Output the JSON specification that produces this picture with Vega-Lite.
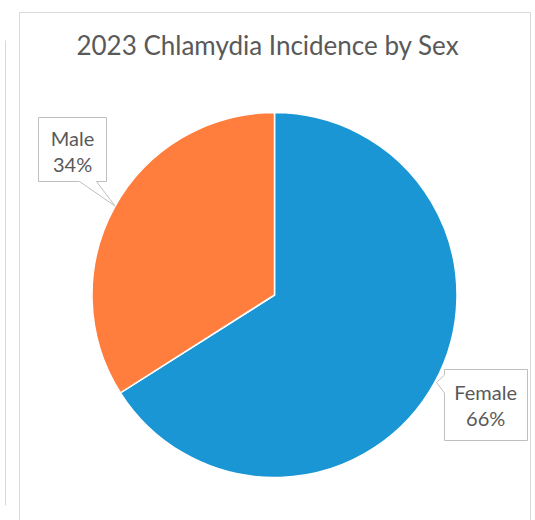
{
  "$schema": "https://vega.github.io/schema/vega-lite/v6.json",
  "width": 535,
  "height": 520,
  "autosize": {"type": "fit", "contains": "padding"},
  "padding": {"left": 17, "top": 12, "right": 5, "bottom": -58},
  "background": "white",
  "view": {"stroke": "#D9D9D9", "strokeWidth": 1, "fill": "white"},
  "title": {
    "text": "2023 Chlamydia Incidence by Sex",
    "font": "Lato",
    "fontSize": 26,
    "fontWeight": "normal",
    "color": "#595959",
    "anchor": "middle",
    "offset": -48,
    "dx": -7
  },
  "data": {
    "values": [
      {"sex": "Female", "share": 0.66, "label": ["Female", "66%"]},
      {"sex": "Male", "share": 0.34, "label": ["Male", "34%"]}
    ]
  },
  "layer": [
    {
      "data": {"values": [{"part": "neighbouring chart frame"}]},
      "mark": {"type": "point", "size": 4, "filled": false, "fill": null, "stroke": "#D9D9D9", "strokeWidth": 1, "strokeJoin": "round", "opacity": 1, "shape": "M-269,-254.5V210.5"},
      "encoding": {}
    },
    {
      "mark": {"type": "arc", "outerRadius": 182.5, "stroke": "white", "strokeWidth": 1.5},
      "encoding": {
        "theta": {"field": "share", "type": "quantitative", "stack": true},
        "order": {"field": "share", "type": "quantitative", "sort": "descending"},
        "color": {
          "field": "sex",
          "type": "nominal",
          "scale": {"domain": ["Female", "Male"], "range": ["#1A96D4", "#FF7E3E"]},
          "legend": null
        }
      }
    },
    {
      "mark": {"type": "point", "size": 4, "filled": true, "fill": "white", "stroke": "#BFBFBF", "strokeWidth": 1, "opacity": 1},
      "encoding": {
        "shape": {
          "field": "sex",
          "type": "nominal",
          "scale": {
            "domain": ["Female", "Male"],
            "range": [
              "M170,74.5H253V145.5H170V98L162,87.5L170,80Z",
              "M-236,-177.5H-168V-113.5H-178L-159.5,-89L-195,-113.5H-236Z"
            ]
          },
          "legend": null
        }
      }
    },
    {
      "mark": {
        "type": "text",
        "radius": 242.5,
        "thetaOffset": 0.0489,
        "dx": 4.6,
        "dy": -28,
        "font": "Lato",
        "fontSize": 20,
        "lineHeight": 26,
        "fill": "#595959",
        "align": "center",
        "baseline": "middle"
      },
      "encoding": {
        "theta": {"field": "share", "type": "quantitative", "stack": true},
        "order": {"field": "share", "type": "quantitative", "sort": "descending"},
        "text": {"field": "label", "type": "nominal"}
      }
    }
  ]
}
